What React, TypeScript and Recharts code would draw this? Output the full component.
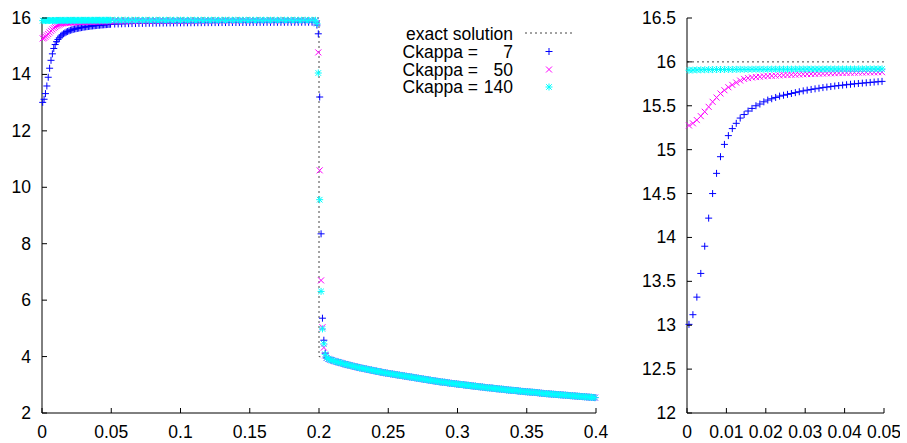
import React from 'react';
import {
  ReferenceLine,
  Scatter,
  ScatterChart,
  XAxis,
  YAxis,
} from 'recharts';

// mesh: cell centres, fine near the wall, coarser on the plateau and tail
const fineX = Array.from({ length: 50 }, (_, i) => 0.0005 + i * 0.001);
const plateauX = Array.from({ length: 59 }, (_, i) => 0.0525 + i * 0.0025);
const jumpX = [0.1985, 0.1995, 0.2005, 0.2015, 0.2025, 0.2035, 0.2045];
const tailX = Array.from({ length: 156 }, (_, i) => 0.2055 + i * 0.00125);

const kappa7Fine = [
  13.01, 13.12, 13.32, 13.59, 13.9, 14.22, 14.5, 14.73, 14.92, 15.06,
  15.16, 15.24, 15.3, 15.36, 15.4, 15.44, 15.47, 15.5, 15.52, 15.545,
  15.565, 15.58, 15.595, 15.61, 15.62, 15.63, 15.64, 15.65, 15.66, 15.67,
  15.678, 15.686, 15.693, 15.7, 15.707, 15.713, 15.719, 15.725, 15.73, 15.735,
  15.74, 15.745, 15.75, 15.754, 15.758, 15.762, 15.766, 15.77, 15.774, 15.778,
];
const kappa50Fine = [
  15.276, 15.3, 15.337, 15.382, 15.432, 15.488, 15.545, 15.594, 15.64, 15.677,
  15.711, 15.738, 15.765, 15.787, 15.806, 15.815, 15.822, 15.827, 15.831, 15.835,
  15.838, 15.841, 15.844, 15.846, 15.849, 15.851, 15.853, 15.855, 15.857, 15.859,
  15.861, 15.863, 15.864, 15.866, 15.867, 15.869, 15.87, 15.871, 15.873, 15.874,
  15.875, 15.876, 15.877, 15.878, 15.879, 15.88, 15.881, 15.881, 15.882, 15.883,
];
const kappa140Fine = [
  15.905, 15.907, 15.909, 15.91, 15.911, 15.912, 15.912, 15.913, 15.913, 15.914,
  15.914, 15.914, 15.915, 15.915, 15.915, 15.915, 15.916, 15.916, 15.916, 15.916,
  15.916, 15.917, 15.917, 15.917, 15.917, 15.917, 15.917, 15.918, 15.918, 15.918,
  15.918, 15.918, 15.918, 15.918, 15.918, 15.919, 15.919, 15.919, 15.919, 15.919,
  15.919, 15.919, 15.919, 15.919, 15.92, 15.92, 15.92, 15.92, 15.92, 15.92,
];

const kappa7Plateau = [
  15.786, 15.79, 15.794, 15.797, 15.8, 15.803, 15.806, 15.808, 15.81, 15.812,
  15.814, 15.816, 15.818, 15.82, 15.821, 15.823, 15.824, 15.825, 15.827, 15.828,
  15.829, 15.83, 15.831, 15.832, 15.833, 15.834, 15.835, 15.836, 15.836, 15.837,
  15.838, 15.839, 15.839, 15.84, 15.841, 15.841, 15.842, 15.842, 15.843, 15.843,
  15.844, 15.844, 15.845, 15.845, 15.846, 15.846, 15.846, 15.847, 15.847, 15.848,
  15.848, 15.848, 15.849, 15.849, 15.849, 15.85, 15.85, 15.85, 15.85,
];
const kappa50Plateau = [
  15.884, 15.885, 15.886, 15.887, 15.888, 15.888, 15.889, 15.89, 15.89, 15.891,
  15.891, 15.892, 15.892, 15.893, 15.893, 15.894, 15.894, 15.894, 15.895, 15.895,
  15.895, 15.896, 15.896, 15.896, 15.897, 15.897, 15.897, 15.897, 15.898, 15.898,
  15.898, 15.898, 15.899, 15.899, 15.899, 15.899, 15.899, 15.9, 15.9, 15.9,
  15.9, 15.9, 15.9, 15.901, 15.901, 15.901, 15.901, 15.901, 15.901, 15.902,
  15.902, 15.902, 15.902, 15.902, 15.902, 15.902, 15.903, 15.903, 15.903,
];
const kappa140Plateau = [
  15.92, 15.92, 15.92, 15.92, 15.921, 15.92, 15.92, 15.921, 15.92, 15.92,
  15.921, 15.92, 15.92, 15.921, 15.92, 15.92, 15.921, 15.92, 15.92, 15.921,
  15.92, 15.92, 15.921, 15.92, 15.92, 15.921, 15.92, 15.92, 15.921, 15.92,
  15.92, 15.921, 15.92, 15.92, 15.921, 15.92, 15.92, 15.921, 15.92, 15.92,
  15.921, 15.92, 15.92, 15.921, 15.92, 15.92, 15.921, 15.92, 15.92, 15.921,
  15.92, 15.92, 15.921, 15.92, 15.92, 15.921, 15.92, 15.92, 15.92,
];

const kappa7Jump = [15.75, 15.44, 13.2, 8.35, 5.36, 4.58, 4.12];
const kappa50Jump = [15.82, 14.78, 10.6, 6.7, 5.04, 4.32, 4.04];
const kappa140Jump = [15.8, 14.05, 9.56, 6.31, 4.98, 4.45, 4.08];

// after the jump the three runs lie on top of each other
const tailValues = [
  3.95, 3.92, 3.89, 3.87, 3.85, 3.83, 3.81, 3.795, 3.78, 3.76,
  3.74, 3.725, 3.71, 3.695, 3.68, 3.665, 3.65, 3.635, 3.62, 3.605,
  3.59, 3.58, 3.57, 3.555, 3.54, 3.53, 3.52, 3.505, 3.49, 3.48,
  3.47, 3.455, 3.44, 3.43, 3.42, 3.41, 3.4, 3.39, 3.38, 3.37,
  3.36, 3.35, 3.34, 3.33, 3.32, 3.31, 3.3, 3.29, 3.28, 3.27,
  3.26, 3.25, 3.24, 3.23, 3.22, 3.21, 3.2, 3.19, 3.18, 3.17,
  3.16, 3.15, 3.14, 3.13, 3.12, 3.11, 3.1, 3.095, 3.09, 3.08,
  3.07, 3.06, 3.05, 3.045, 3.04, 3.03, 3.02, 3.015, 3.01, 3.0,
  2.99, 2.985, 2.98, 2.97, 2.96, 2.955, 2.95, 2.94, 2.93, 2.925,
  2.92, 2.91, 2.9, 2.895, 2.89, 2.885, 2.88, 2.87, 2.86, 2.855,
  2.85, 2.845, 2.84, 2.83, 2.82, 2.815, 2.81, 2.805, 2.8, 2.795,
  2.79, 2.78, 2.77, 2.765, 2.76, 2.755, 2.75, 2.745, 2.74, 2.735,
  2.73, 2.725, 2.72, 2.71, 2.7, 2.695, 2.69, 2.685, 2.68, 2.675,
  2.67, 2.665, 2.66, 2.655, 2.65, 2.645, 2.64, 2.635, 2.63, 2.625,
  2.62, 2.615, 2.61, 2.605, 2.6, 2.595, 2.59, 2.585, 2.58, 2.575,
  2.57, 2.565, 2.56, 2.555, 2.55, 2.545,
];

const exactX = [0, 0.2, 0.2];
const exactY = [16, 16, 4.0];

const leftXTicks = [0, 0.05, 0.1, 0.15, 0.2, 0.25, 0.3, 0.35, 0.4];
const leftYTicks = [2, 4, 6, 8, 10, 12, 14, 16];
const rightXTicks = [0, 0.01, 0.02, 0.03, 0.04, 0.05];
const rightYTicks = [12, 12.5, 13, 13.5, 14, 14.5, 15, 15.5, 16, 16.5];

const FONT = '"Liberation Sans", Arial, Helvetica, sans-serif';
const FONT_SIZE = 17.5;
const TICK = 5;
const BLUE = '#0000ff';
const MAGENTA = '#ff00ff';
const CYAN = '#00ffff';

const toPoints = (xs: number[], ys: number[]) =>
  xs.map((x, i) => ({ x, y: ys[i] }));

const kappa7 = [
  ...toPoints(fineX, kappa7Fine),
  ...toPoints(plateauX, kappa7Plateau),
  ...toPoints(jumpX, kappa7Jump),
  ...toPoints(tailX, tailValues),
];
const kappa50 = [
  ...toPoints(fineX, kappa50Fine),
  ...toPoints(plateauX, kappa50Plateau),
  ...toPoints(jumpX, kappa50Jump),
  ...toPoints(tailX, tailValues),
];
const kappa140 = [
  ...toPoints(fineX, kappa140Fine),
  ...toPoints(plateauX, kappa140Plateau),
  ...toPoints(jumpX, kappa140Jump),
  ...toPoints(tailX, tailValues),
];
const exact = [...toPoints(exactX, exactY), ...toPoints(tailX, tailValues)];

const fmt = (v: number) => String(parseFloat(v.toFixed(4)));

const Plus = ({ cx, cy, color }: any) => (
  <path
    d={`M${cx - 3.5},${cy}H${cx + 3.5}M${cx},${cy - 3.5}V${cy + 3.5}`}
    stroke={color}
    strokeWidth={1}
    fill="none"
  />
);
const Cross = ({ cx, cy, color }: any) => (
  <path
    d={`M${cx - 3},${cy - 3}L${cx + 3},${cy + 3}M${cx - 3},${cy + 3}L${cx + 3},${cy - 3}`}
    stroke={color}
    strokeWidth={1}
    fill="none"
  />
);
const Star = ({ cx, cy, color }: any) => (
  <path
    d={`M${cx - 3.5},${cy}H${cx + 3.5}M${cx},${cy - 3.5}V${cy + 3.5}M${cx - 2.8},${cy - 2.8}L${cx + 2.8},${cy + 2.8}M${cx - 2.8},${cy + 2.8}L${cx + 2.8},${cy - 2.8}`}
    stroke={color}
    strokeWidth={1}
    fill="none"
  />
);

const textStyle = { fontFamily: FONT, fontSize: FONT_SIZE, fill: '#000' };

const BottomTick = ({ x, y, payload }: any) => (
  <g>
    <line x1={x} x2={x} y1={y} y2={y - TICK} stroke="#000" />
    <text x={x} y={y + 25} textAnchor="middle" style={textStyle}>
      {fmt(payload.value)}
    </text>
  </g>
);
const TopTick = ({ x, y }: any) => (
  <line x1={x} x2={x} y1={y} y2={y + TICK} stroke="#000" />
);
const LeftTick = ({ x, y, payload }: any) => (
  <g>
    <line x1={x} x2={x + TICK} y1={y} y2={y} stroke="#000" />
    <text x={x - 11} y={y + 6} textAnchor="end" style={textStyle}>
      {fmt(payload.value)}
    </text>
  </g>
);
const RightTick = ({ x, y }: any) => (
  <line x1={x} x2={x - TICK} y1={y} y2={y} stroke="#000" />
);

const axisLine = { stroke: '#000', strokeWidth: 1 };

const Frame = (xDomain: number[], yDomain: number[], xTicks: number[], yTicks: number[], yWidth: number) => [
  <XAxis
    key="xb"
    xAxisId="b"
    type="number"
    dataKey="x"
    domain={xDomain}
    ticks={xTicks}
    interval={0}
    height={30}
    tickLine={false}
    tickSize={0}
    tickMargin={0}
    axisLine={axisLine}
    tick={<BottomTick />}
  />,
  <XAxis
    key="xt"
    xAxisId="t"
    orientation="top"
    type="number"
    dataKey="x"
    domain={xDomain}
    ticks={xTicks}
    interval={0}
    height={0}
    tickLine={false}
    tickSize={0}
    tickMargin={0}
    axisLine={axisLine}
    tick={<TopTick />}
  />,
  <YAxis
    key="yl"
    yAxisId="l"
    type="number"
    dataKey="y"
    domain={yDomain}
    ticks={yTicks}
    interval={0}
    width={yWidth}
    tickLine={false}
    tickSize={0}
    tickMargin={0}
    axisLine={axisLine}
    tick={<LeftTick />}
  />,
  <YAxis
    key="yr"
    yAxisId="r"
    orientation="right"
    type="number"
    dataKey="y"
    domain={yDomain}
    ticks={yTicks}
    interval={0}
    width={0}
    tickLine={false}
    tickSize={0}
    tickMargin={0}
    axisLine={axisLine}
    tick={<RightTick />}
  />,
];

const markerSeries = (data7: any[], data50: any[], data140: any[]) => [
  <Scatter
    key="k7"
    xAxisId="b"
    yAxisId="l"
    data={data7}
    isAnimationActive={false}
    shape={(p: any) => <Plus cx={p.cx} cy={p.cy} color={BLUE} />}
  />,
  <Scatter
    key="k50"
    xAxisId="b"
    yAxisId="l"
    data={data50}
    isAnimationActive={false}
    shape={(p: any) => <Cross cx={p.cx} cy={p.cy} color={MAGENTA} />}
  />,
  <Scatter
    key="k140"
    xAxisId="b"
    yAxisId="l"
    data={data140}
    isAnimationActive={false}
    shape={(p: any) => <Star cx={p.cx} cy={p.cy} color={CYAN} />}
  />,
];

const Legend = () => {
  const rows = [
    { y: 51.5, num: '7', Mark: Plus, color: BLUE },
    { y: 69.5, num: '50', Mark: Cross, color: MAGENTA },
    { y: 87, num: '140', Mark: Star, color: CYAN },
  ];
  return (
    <svg
      width={907}
      height={443}
      style={{ position: 'absolute', left: 0, top: 0, pointerEvents: 'none' }}>
      <text x={513} y={39.5} textAnchor="end" style={textStyle}>
        exact solution
      </text>
      <line x1={525} x2={573} y1={33} y2={33} stroke="#444" strokeDasharray="2 3" />
      {rows.map((r) => (
        <g key={r.num}>
          <text x={478} y={r.y + 6} textAnchor="end" style={textStyle}>
            Ckappa =
          </text>
          <text x={513} y={r.y + 6} textAnchor="end" style={textStyle}>
            {r.num}
          </text>
          <r.Mark cx={549} cy={r.y} color={r.color} />
        </g>
      ))}
    </svg>
  );
};

export default function App() {
  return (
    <div
      style={{
        position: 'absolute',
        left: 0,
        top: 0,
        width: 907,
        height: 443,
        background: '#fff',
        overflow: 'hidden',
      }}>
      <div style={{ position: 'absolute', left: 0, top: 0 }}>
        <ScatterChart
          width={610}
          height={443}
          margin={{ top: 18, right: 14, bottom: 0, left: 0 }}>
          {Frame([0, 0.4], [2, 16], leftXTicks, leftYTicks, 42)}
          <Scatter
            xAxisId="b"
            yAxisId="l"
            data={exact}
            isAnimationActive={false}
            line={{ stroke: '#444', strokeWidth: 1, strokeDasharray: '2 3' }}
            lineType="joint"
            shape={() => <g />}
          />
          {markerSeries(kappa7, kappa50, kappa140)}
        </ScatterChart>
      </div>
      <div style={{ position: 'absolute', left: 640, top: 0 }}>
        <ScatterChart
          width={260}
          height={443}
          margin={{ top: 18, right: 16, bottom: 0, left: 0 }}>
          {Frame([0, 0.05], [12, 16.5], rightXTicks, rightYTicks, 47)}
          <ReferenceLine
            xAxisId="b"
            yAxisId="l"
            y={16}
            stroke="#444"
            strokeDasharray="2 3"
          />
          {markerSeries(
            toPoints(fineX, kappa7Fine),
            toPoints(fineX, kappa50Fine),
            toPoints(fineX, kappa140Fine),
          )}
        </ScatterChart>
      </div>
      <Legend />
    </div>
  );
}
